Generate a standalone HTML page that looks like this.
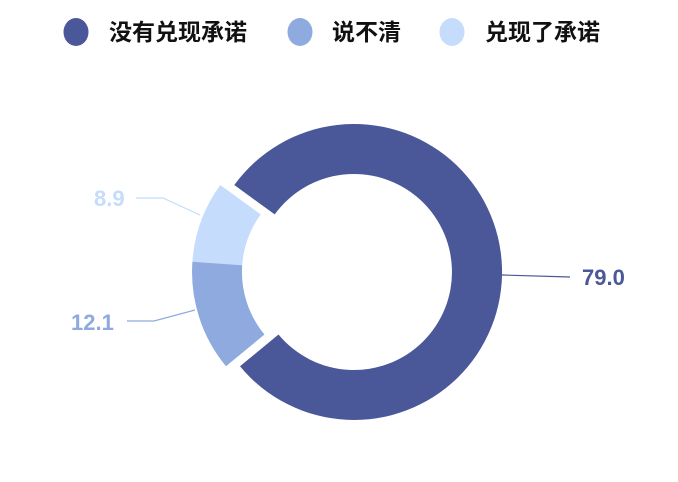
<!DOCTYPE html>
<html><head><meta charset="utf-8"><style>
html,body{margin:0;padding:0;background:#fff;width:678px;height:482px;overflow:hidden}
</style></head><body>
<svg width="678" height="482" viewBox="0 0 678 482" xmlns="http://www.w3.org/2000/svg" style="display:block">
<g font-family="'Liberation Sans','Noto Sans CJK SC',sans-serif" font-weight="bold" font-size="23" fill="#111">
<ellipse cx="76" cy="32" rx="12.5" ry="14" fill="#4a5799"/>
<text x="109" y="40">没有兑现承诺</text>
<ellipse cx="300" cy="32" rx="12.5" ry="14" fill="#8eaadf"/>
<text x="332" y="40">说不清</text>
<ellipse cx="452" cy="32" rx="12.5" ry="14" fill="#c5dcfc"/>
<text x="485" y="40">兑现了承诺</text>
</g>
<path d="M234.3,185 A148,148 0 1 1 240,366.3 L278.5,334.5 A98,98 0 1 0 274.7,214.4 Z" fill="#4a5799"/>
<path d="M192.4,261.7 A148,148 0 0 1 220.3,185 L260.7,214.4 A98,98 0 0 0 242.2,265.2 Z" fill="#c5dcfc"/>
<path d="M226,366.3 A148,148 0 0 1 192.4,261.7 L242.2,265.2 A98,98 0 0 0 264.5,334.5 Z" fill="#8eaadf"/>
<polyline points="502,275 570,277" fill="none" stroke="#4a5799" stroke-width="1.2"/>
<polyline points="200,215 163,198 136,198" fill="none" stroke="#c5dcfc" stroke-width="1.2"/>
<polyline points="195,310 154,321 127,321" fill="none" stroke="#8eaadf" stroke-width="1.2"/>
<g font-family="'Liberation Sans',sans-serif" font-weight="bold" font-size="22">
<text x="582" y="285" fill="#4a5799">79.0</text>
<text x="71" y="330" fill="#8eaadf">12.1</text>
<text x="94" y="206" fill="#c5dcfc">8.9</text>
</g>
</svg>
</body></html>
